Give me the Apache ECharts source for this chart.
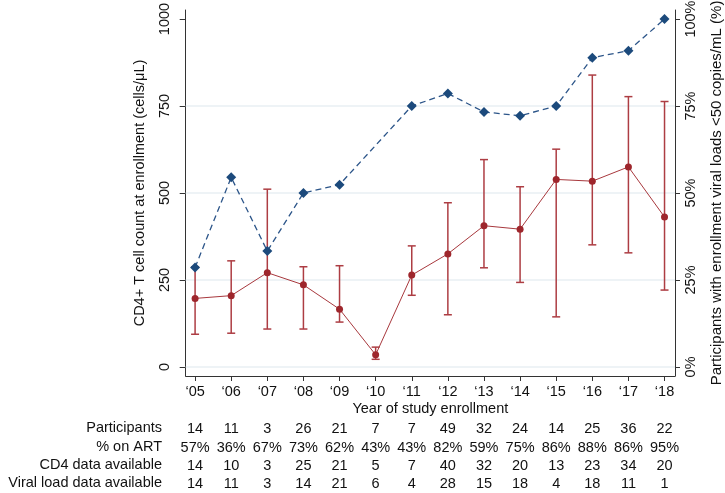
<!DOCTYPE html>
<html>
<head>
<meta charset="utf-8">
<script src="https://cdn.jsdelivr.net/npm/echarts@6/dist/echarts.min.js"></script>
<style>html,body{margin:0;padding:0;background:#fff;}#c{width:725px;height:493px;}</style>
</head>
<body>
<div id="c"></div>
<script>
const years = [2005,2006,2007,2008,2009,2010,2011,2012,2013,2014,2015,2016,2017,2018];
const cd4Median = [197,205,271,236,166,35,264,325,406,396,539,534,575,431];
const cd4Lower  = [94,97,109,109,129,22,206,150,285,243,144,351,328,221];
const cd4Upper  = [288,305,511,288,291,57,348,472,596,518,626,839,777,763];
const suppressedPct = [28.6,54.5,33.3,50,52.4,null,75,78.6,73.3,72.2,75,88.9,90.9,100];
const participants = [14,11,3,26,21,7,7,49,32,24,14,25,36,22];
const pctOnART = [57,36,67,73,62,43,43,82,59,75,86,88,86,95];
const cd4Available = [14,10,3,25,21,5,7,40,32,20,13,23,34,20];
const vlAvailable = [14,11,3,14,21,6,4,28,15,18,4,18,11,1];
const rowLabels = ['Participants', '% on ART', 'CD4 data available', 'Viral load data available'];
const leftTicks = [0,250,500,750,1000];
const rightTicks = [0,25,50,75,100];

const FONT = 'Liberation Sans, Arial, Helvetica, sans-serif';
const FS = 14.5;
const TXT = '#111';
const AXIS = '#333';
const XMIN = 2004.74, XMAX = 2018.29;
const GRID_BOTTOM_Y = 376;
const rowOffsets = [53, 72, 90, 108];

function tableAxis(values, offset, fmt) {
  return {
    type: 'value', min: XMIN, max: XMAX, position: 'bottom', offset: offset,
    axisLine: {show: false}, axisTick: {show: false}, splitLine: {show: false},
    axisLabel: {
      customValues: years, margin: 0, verticalAlign: 'middle', hideOverlap: false,
      fontFamily: FONT, fontSize: FS, color: TXT,
      formatter: v => { const i = Math.round(v) - 2005; return fmt ? fmt(values[i]) : String(values[i]); }
    }
  };
}

const chart = echarts.init(document.getElementById('c'), null, {renderer: 'canvas'});
chart.setOption({
  animation: false,
  backgroundColor: '#fff',
  grid: {left: 185.7, right: 50, top: 10, bottom: 117, outerBoundsMode: 'none', containLabel: false},
  graphic: rowLabels.map((t, i) => ({
    type: 'text', right: 725 - 162, top: GRID_BOTTOM_Y + rowOffsets[i] - 8.5,
    style: {text: t, fontFamily: FONT, fontSize: FS, fill: TXT, align: 'right'}
  })),
  xAxis: [
    {
      type: 'value', min: XMIN, max: XMAX, position: 'bottom',
      name: 'Year of study enrollment', nameLocation: 'middle', nameGap: 33, nameMoveOverlap: false,
      nameTextStyle: {fontFamily: FONT, fontSize: FS, color: TXT, verticalAlign: 'middle'},
      axisLine: {show: true, onZero: false, lineStyle: {color: AXIS, width: 1}},
      axisTick: {show: true, customValues: years, length: 5, lineStyle: {color: AXIS}},
      splitLine: {show: false},
      axisLabel: {customValues: years, margin: 8, fontFamily: FONT, fontSize: FS, color: TXT,
        formatter: v => '\u2018' + String(Math.round(v)).slice(2)}
    },
    tableAxis(participants, rowOffsets[0]),
    tableAxis(pctOnART, rowOffsets[1], v => v + '%'),
    tableAxis(cd4Available, rowOffsets[2]),
    tableAxis(vlAvailable, rowOffsets[3])
  ],
  yAxis: [
    {
      type: 'value', min: -26, max: 1026, position: 'left',
      name: 'CD4+ T cell count at enrollment (cells/\u03bcL)', nameLocation: 'middle', nameGap: 46, nameRotate: 90,
      nameMoveOverlap: false,
      nameTextStyle: {fontFamily: FONT, fontSize: FS, color: TXT, verticalAlign: 'middle'},
      axisLine: {show: true, onZero: false, lineStyle: {color: AXIS, width: 1}},
      axisTick: {show: true, customValues: leftTicks, length: 6, lineStyle: {color: AXIS}},
      splitLine: {show: false},
      axisLabel: {customValues: leftTicks, rotate: 90, margin: 13, fontFamily: FONT, fontSize: FS, color: TXT,
        formatter: v => String(Math.round(v))}
    },
    {
      type: 'value', min: -2.6, max: 102.6, position: 'right',
      name: 'Participants with enrollment viral loads <50 copies/mL (%)', nameLocation: 'middle', nameGap: 42, nameRotate: 90,
      nameMoveOverlap: false,
      nameTextStyle: {fontFamily: FONT, fontSize: 15, color: TXT, verticalAlign: 'middle'},
      axisLine: {show: true, onZero: false, lineStyle: {color: AXIS, width: 1}},
      axisTick: {show: true, customValues: rightTicks, length: 5, lineStyle: {color: AXIS}},
      splitLine: {show: false},
      axisLabel: {customValues: rightTicks, rotate: 90, margin: 8, fontFamily: FONT, fontSize: FS, color: TXT,
        formatter: v => Math.round(v) + '%'}
    }
  ],
  series: [
    {
      type: 'custom', xAxisIndex: 0, yAxisIndex: 0, z: 2,
      data: years.map((y, i) => [y, cd4Lower[i], cd4Upper[i]]),
      renderItem: function (params, api) {
        const x = api.value(0);
        const lo = api.coord([x, api.value(1)]);
        const hi = api.coord([x, api.value(2)]);
        const w = 4;
        const st = {stroke: '#ad3d43', lineWidth: 1.5};
        return {type: 'group', children: [
          {type: 'line', shape: {x1: lo[0], y1: lo[1], x2: hi[0], y2: hi[1]}, style: st},
          {type: 'line', shape: {x1: hi[0] - w, y1: hi[1], x2: hi[0] + w, y2: hi[1]}, style: st},
          {type: 'line', shape: {x1: lo[0] - w, y1: lo[1], x2: lo[0] + w, y2: lo[1]}, style: st}
        ]};
      }
    },
    {
      type: 'line', xAxisIndex: 0, yAxisIndex: 0, z: 3,
      data: years.map((y, i) => [y, cd4Median[i]]),
      symbol: 'circle', symbolSize: 7,
      lineStyle: {color: '#a8383d', width: 1},
      itemStyle: {color: '#9e262c', borderWidth: 0},
      markLine: {
        silent: true, symbol: ['none', 'none'], label: {show: false}, z: 1,
        lineStyle: {color: '#e8eff3', width: 1.5, type: 'solid'},
        data: leftTicks.slice(0, 4).map(v => ({yAxis: v}))
      }
    },
    {
      type: 'line', xAxisIndex: 0, yAxisIndex: 1, z: 4, connectNulls: true,
      data: years.map((y, i) => [y, suppressedPct[i]]),
      symbol: 'diamond', symbolSize: 10,
      lineStyle: {color: '#2c5589', width: 1.3, type: [6, 4]},
      itemStyle: {color: '#1c4a7c', borderWidth: 0}
    }
  ]
});
</script>
</body>
</html>
